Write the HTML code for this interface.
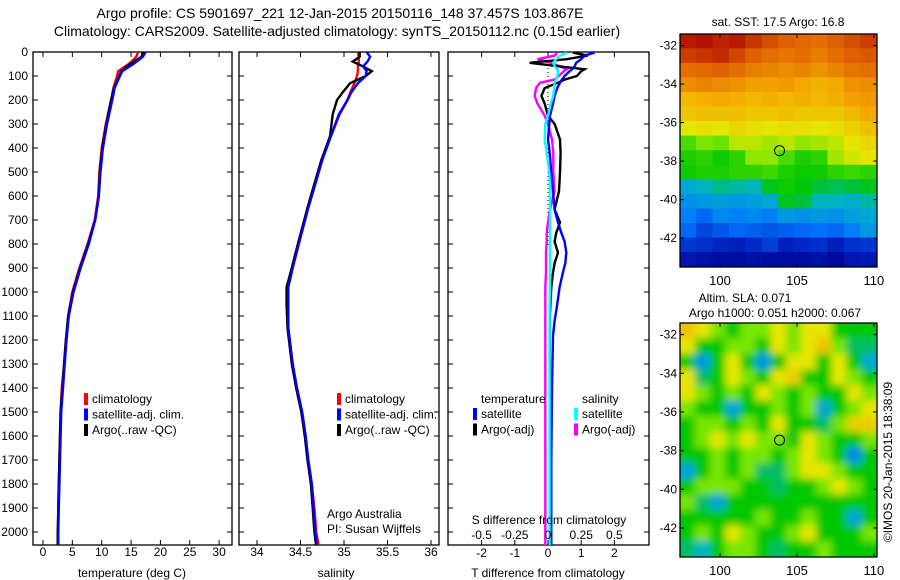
<!DOCTYPE html>
<html><head><meta charset="utf-8"><style>
html,body{margin:0;padding:0;background:#fff;}
svg{display:block;font-family:"Liberation Sans",sans-serif;}
</style></head><body>
<svg id="fig" width="900" height="580" viewBox="0 0 900 580" xmlns="http://www.w3.org/2000/svg">
<defs>
<clipPath id="c1"><rect x="33" y="34" width="199" height="511"/></clipPath>
<clipPath id="c2"><rect x="239" y="34" width="200" height="511"/></clipPath>
<clipPath id="c3"><rect x="448" y="34" width="201" height="511"/></clipPath>
<clipPath id="cm1"><rect x="680" y="34" width="197" height="233"/></clipPath>
<clipPath id="cm2"><rect x="680" y="323" width="197" height="234"/></clipPath>
<filter id="blur" x="-5%" y="-5%" width="110%" height="110%"><feGaussianBlur stdDeviation="4"/></filter>
</defs>
<text x="340" y="18" font-size="14" text-anchor="middle">Argo profile: CS 5901697_221 12-Jan-2015 20150116_148 37.457S 103.867E</text>
<text x="337" y="36" font-size="14" text-anchor="middle">Climatology: CARS2009. Satellite-adjusted climatology: synTS_20150112.nc (0.15d earlier)</text>
<g id="g"></g>
</svg>
<script>
// ---------- data ----------
const depthT   = [0,20,50,80,100,150,200,300,400,500,600,700,800,900,1000,1100,1200,1300,1400,1500,1600,1700,1800,1900,2000,2060];
const tempClim = [16.2,15.9,14.6,12.8,12.6,12.0,11.6,10.7,10.0,9.6,9.4,8.8,7.6,6.2,5.0,4.3,3.9,3.6,3.2,3.0,2.9,2.8,2.7,2.6,2.6,2.6];
const tempSat  = [17.5,17.0,15.4,13.5,13.1,12.2,11.8,10.9,10.2,9.8,9.5,8.9,7.8,6.4,5.2,4.4,4.0,3.7,3.4,3.1,3.0,2.9,2.8,2.7,2.6,2.6];
const tempArgo = [17.0,16.8,14.8,13.3,13.0,12.1,11.6,10.8,10.1,9.7,9.5,8.9,7.7,6.3,5.1,4.3,3.9,3.6,3.3,3.0,2.9,2.8,2.7,2.6,2.5,2.5];
const depthS   = [0,20,40,60,80,100,130,170,200,260,350,450,550,650,800,900,980,1050,1150,1300,1400,1500,1600,1700,1800,1900,2000,2060];
const salClim  = [35.16,35.17,35.17,35.16,35.16,35.15,35.12,35.07,35.04,34.95,34.85,34.74,34.66,34.58,34.47,34.40,34.35,34.35,34.36,34.41,34.45,34.51,34.55,34.59,34.63,34.66,34.68,34.71];
const salSat   = [35.26,35.30,35.27,35.22,35.26,35.25,35.16,35.08,35.04,34.94,34.85,34.75,34.67,34.59,34.48,34.41,34.36,34.36,34.36,34.41,34.46,34.52,34.56,34.59,34.63,34.65,34.67,34.69];
const salArgo  = [35.18,35.18,35.10,35.22,35.32,35.25,35.07,34.98,34.92,34.87,34.84,34.74,34.66,34.58,34.47,34.40,34.34,34.34,34.35,34.40,34.45,34.51,34.55,34.58,34.62,34.64,34.66,34.68];
const depthD   = [3,15,30,45,60,72,80,100,115,128,150,183,215,266,300,364,420,503,580,656,710,753,790,836,880,919,980,1058,1120,1182,1400,1700,2060];
const dTsat    = [1.4,1.1,1.0,0.85,0.8,0.72,0.65,0.5,0.42,0.36,0.28,0.2,0.15,0.06,0.04,0.0,0.05,0.1,0.15,0.2,0.3,0.4,0.5,0.55,0.52,0.45,0.35,0.27,0.2,0.15,0.12,0.1,0.1];
const dTargo   = [0.75,1.2,0.56,-0.55,0.36,1.1,1.0,0.87,0.5,0.3,-0.1,-0.2,-0.1,0.0,0.2,0.36,0.38,0.36,0.33,0.2,0.36,0.25,0.2,0.3,0.2,0.15,0.1,0.07,0.05,0.05,0.05,0.05,0.05];
const dSsat    = [0.14,0.09,0.06,0.04,0.05,0.07,0.075,0.07,0.06,0.05,0.045,0.04,0.02,0.0,-0.02,-0.025,-0.01,0.01,0.015,0.015,0.015,0.015,0.015,0.015,0.015,0.015,0.015,0.012,0.012,0.012,0.012,0.012,0.012];
const dSargo   = [0.07,0.05,-0.08,0.02,0.09,0.14,0.12,0.08,0.05,-0.06,-0.09,-0.1,-0.08,-0.025,0.0,0.03,0.04,0.04,0.05,0.015,0.0,-0.01,-0.01,-0.015,-0.015,-0.015,-0.02,-0.02,-0.02,-0.02,-0.02,-0.02,-0.02];
const depthTicks = [0,100,200,300,400,500,600,700,800,900,1000,1100,1200,1300,1400,1500,1600,1700,1800,1900,2000];
const tempTicks = [0,5,10,15,20,25,30];
const salTicks = [34,34.5,35,35.5,36];
const salTickLabels = ["34","34.5","35","35.5","36"];
const dTTicks = [-2,-1,0,1,2];
const dSTicks = [-0.5,-0.25,0,0.25,0.5];
const dSTickLabels = ["-0.5","-0.25","0","0.25","0.5"];
const lonTicks = [100,105,110];
const latTicks = [-32,-34,-36,-38,-40,-42];
const argoLon = 103.867, argoLat = -37.457;
const sstGrid = [
[19.6,19.7,19.5,19.6,19.3,19.0,18.8,18.7,18.6,18.8,19.0,19.2],
[19.2,19.3,19.4,19.1,18.8,18.6,18.5,18.6,18.4,18.6,18.8,18.9],
[18.6,18.7,18.8,18.6,18.4,18.3,18.2,18.3,18.1,18.3,18.5,18.6],
[18.2,18.3,18.2,18.1,17.9,17.9,18.0,17.8,17.7,17.8,18.1,18.2],
[17.6,17.7,17.8,17.7,17.6,17.7,17.6,17.7,17.6,17.7,17.9,18.0],
[17.4,17.5,17.5,17.5,17.4,17.4,17.5,17.4,17.4,17.4,17.6,17.8],
[17.0,17.1,17.0,17.2,17.1,17.0,17.1,17.1,17.0,17.1,17.3,17.5],
[16.2,16.5,16.4,16.8,16.8,16.7,16.8,16.6,16.7,16.8,17.0,17.2],
[15.9,16.0,15.8,16.0,16.6,16.6,16.2,15.9,16.0,16.7,16.9,17.0],
[15.8,15.9,15.9,16.0,16.0,16.1,15.9,15.8,15.8,16.0,16.1,16.0],
[14.8,15.0,15.2,15.1,15.0,15.6,15.8,15.7,15.5,15.4,15.5,15.6],
[14.5,14.6,14.7,14.6,14.7,14.8,15.6,15.5,15.0,15.0,14.9,15.1],
[14.3,14.0,14.4,14.3,14.4,14.3,14.6,14.5,14.6,14.5,14.7,14.8],
[14.0,13.6,13.8,14.0,13.9,13.8,13.9,14.0,14.1,14.0,14.3,14.6],
[13.4,13.3,13.1,13.0,13.2,13.5,13.0,13.2,13.3,13.0,13.3,13.4],
[12.8,12.7,12.6,12.6,12.7,12.6,12.6,12.6,12.7,12.5,12.8,12.9]];
const slaGrid = [
[0.68,0.62,0.55,0.45,0.55,0.55,0.62,0.55,0.62,0.62,0.45,0.45,0.45],
[0.62,0.45,0.45,0.55,0.55,0.45,0.62,0.55,0.62,0.68,0.55,0.40,0.40],
[0.45,0.30,0.45,0.62,0.45,0.30,0.45,0.62,0.62,0.45,0.62,0.45,0.33],
[0.62,0.40,0.45,0.62,0.55,0.45,0.62,0.66,0.45,0.45,0.62,0.55,0.45],
[0.62,0.55,0.45,0.55,0.45,0.62,0.55,0.45,0.55,0.45,0.45,0.62,0.55],
[0.55,0.45,0.45,0.32,0.45,0.45,0.55,0.45,0.55,0.32,0.45,0.55,0.62],
[0.45,0.55,0.55,0.45,0.55,0.45,0.62,0.45,0.45,0.40,0.55,0.66,0.66],
[0.45,0.55,0.62,0.55,0.62,0.55,0.55,0.45,0.62,0.55,0.45,0.45,0.55],
[0.45,0.45,0.55,0.45,0.55,0.55,0.45,0.55,0.62,0.55,0.45,0.28,0.45],
[0.32,0.45,0.55,0.45,0.55,0.40,0.40,0.55,0.62,0.62,0.55,0.45,0.45],
[0.45,0.55,0.55,0.55,0.45,0.45,0.40,0.45,0.45,0.55,0.62,0.55,0.45],
[0.55,0.40,0.32,0.45,0.45,0.45,0.45,0.45,0.45,0.45,0.45,0.45,0.45],
[0.45,0.45,0.45,0.45,0.45,0.55,0.45,0.45,0.55,0.45,0.45,0.32,0.45],
[0.45,0.55,0.45,0.62,0.55,0.45,0.45,0.55,0.62,0.45,0.45,0.45,0.55],
[0.40,0.35,0.45,0.55,0.55,0.45,0.40,0.45,0.45,0.55,0.45,0.45,0.45]];

// ---------- helpers ----------
const NS="http://www.w3.org/2000/svg";
const G=document.getElementById('g');
function mk(tag,attrs,parent){const e=document.createElementNS(NS,tag);for(const k in attrs)e.setAttribute(k,attrs[k]);(parent||G).appendChild(e);return e;}
function txt(x,y,s,size,anchor,parent){const e=mk('text',{x:x,y:y,'font-size':size||12,'text-anchor':anchor||'middle'},parent);e.textContent=s;return e;}
const yD=d=>52+d*0.24;
const xT=t=>43+t*5.87;
const xS=s=>257+(s-34)*87;
const xDT=t=>548+t*33.2;
const xDS=s=>548+s*4*33.2;

function frame(x0,x1,name){
  const r=mk('rect',{x:x0,y:52,width:x1-x0,height:493,fill:'none',stroke:'#000','stroke-width':1.3});
  
  
  depthTicks.forEach(d=>{mk('line',{x1:x0,x2:x0+5,y1:yD(d),y2:yD(d),stroke:'#000'});mk('line',{x1:x1,x2:x1-5,y1:yD(d),y2:yD(d),stroke:'#000'});});
}
function xticks(vals,labels,fx,y0,ly){
  vals.forEach((v,i)=>{const x=fx(v);mk('line',{x1:x,x2:x,y1:52,y2:57,stroke:'#000'});mk('line',{x1:x,x2:x,y1:545,y2:540,stroke:'#000'});
    const t=txt(x,ly,labels[i],12);});
}
function line(xs,ds,fx,color,clip,name,w){
  const pts=xs.map((v,i)=>fx(v).toFixed(1)+','+yD(ds[i]).toFixed(1)).join(' ');
  const p=mk('polyline',{points:pts,fill:'none',stroke:color,'stroke-width':w||2.4,'clip-path':'url(#'+clip+')','stroke-linejoin':'miter'});
  
  
}
function legend(x,y,items){
  items.forEach((it,i)=>{mk('rect',{x:x,y:y+i*15.5-10,width:4,height:12,fill:it[0]});
    const t=txt(x+8,y+i*15.5,it[1],12,'start');});
}

// panel 1
frame(33,232,'temperature-panel');
depthTicks.forEach(d=>{const t=txt(28,yD(d)+4,String(d),12,'end');});
xticks(tempTicks,tempTicks.map(String),xT,0,556);
line(tempClim,depthT,xT,'#f00','c1','temp-climatology-line');
line(tempArgo,depthT,xT,'#000','c1','temp-argo-line');
line(tempSat,depthT,xT,'#00f','c1','temp-satellite-line');
txt(132,577,'temperature (deg C)',12);
legend(84,403,[['#f00','climatology'],['#00f','satellite-adj. clim.'],['#000','Argo(..raw -QC)']]);

// panel 2
frame(239,439,'salinity-panel');
xticks(salTicks,salTickLabels,xS,0,556);
line(salClim,depthS,xS,'#f00','c2','sal-climatology-line');
line(salArgo,depthS,xS,'#000','c2','sal-argo-line');
line(salSat,depthS,xS,'#00f','c2','sal-satellite-line');
txt(336,577,'salinity',12);
legend(337,403,[['#f00','climatology'],['#00f','satellite-adj. clim.'],['#000','Argo(..raw -QC)']]);
txt(327,518,'Argo Australia',12,'start');
txt(327,533,'PI: Susan Wijffels',12,'start');

// panel 3
frame(448,649,'difference-panel');
xticks(dTTicks,dTTicks.map(String),xDT,0,557);
mk('line',{x1:548,x2:548,y1:52,y2:245,stroke:'#000','stroke-dasharray':'1,3'});
line(dSargo,depthD,xDS,'#f0f','c3','sal-argo-diff-line',2.4);
line(dTargo,depthD,xDT,'#000','c3','temp-argo-diff-line',2.4);
line(dTsat,depthD,xDT,'#00f','c3','temp-satellite-diff-line',2.4);
line(dSsat,depthD,xDS,'#0ff','c3','sal-satellite-diff-line',2.4);
dSTicks.forEach((v,i)=>{const t=txt(xDS(v),539,dSTickLabels[i],12);});
txt(549,524,'S difference from climatology',12);
txt(548,577,'T difference from climatology',12);
txt(481,403,'temperature',12,'start');
txt(582,403,'salinity',12,'start');
legend(473,418,[['#00f','satellite'],['#000','Argo(-adj)']]);
legend(574,418,[['#0ff','satellite'],['#f0f','Argo(-adj)']]);

// colormap
const stops=[[0,[0,0,140]],[0.12,[0,40,200]],[0.25,[0,120,255]],[0.35,[0,180,200]],[0.45,[0,200,0]],[0.55,[120,230,0]],[0.62,[230,230,0]],[0.72,[245,170,0]],[0.85,[225,100,0]],[1,[170,0,0]]];
function cmap(t){t=Math.max(0,Math.min(1,t));for(let i=1;i<stops.length;i++){if(t<=stops[i][0]){const a=stops[i-1],b=stops[i],f=(t-a[0])/(b[0]-a[0]);return 'rgb('+a[1].map((c,j)=>Math.round(c+(b[1][j]-c)*f)).join(',')+')';}}return 'rgb(170,0,0)';}

function map(y0,y1,lat0,lat1,grid,tfun,clip,blur,name){
  const x0=680,x1=877,lon0=97.4,lon1=110.2;
  const fx=l=>x0+(l-lon0)/(lon1-lon0)*(x1-x0);
  const fy=a=>y0+(lat0-a)/(lat0-lat1)*(y1-y0);
  const g=mk('g',{'clip-path':'url(#'+clip+')'});
  const inner=mk('g',blur?{filter:'url(#blur)'}:{},g);
  const rows=grid.length,cols=grid[0].length;
  const cw=(x1-x0)/cols,ch=(y1-y0)/rows;
  const pad=blur?12:0;
  grid.forEach((row,r)=>row.forEach((v,c)=>{
    const cell=mk('rect',{x:x0+c*cw-(c==0?pad:0)-0.3,y:y0+r*ch-(r==0?pad:0)-0.3,width:cw+0.6+((c==0||c==cols-1)?pad:0),height:ch+0.6+((r==0||r==rows-1)?pad:0),fill:cmap(tfun(v))},inner);
    
    
  }));
  const fr=mk('rect',{x:x0,y:y0,width:x1-x0,height:y1-y0,fill:'none',stroke:'#000','stroke-width':1.3});
  
  
  lonTicks.forEach(l=>{const x=fx(l);mk('line',{x1:x,x2:x,y1:y0,y2:y0+4,stroke:'#000'});mk('line',{x1:x,x2:x,y1:y1,y2:y1-4,stroke:'#000'});txt(x,y1+18,String(l),13);});
  latTicks.forEach(a=>{const y=fy(a);mk('line',{x1:x0,x2:x0+4,y1:y,y2:y,stroke:'#000'});mk('line',{x1:x1,x2:x1-4,y1:y,y2:y,stroke:'#000'});txt(x0-3,y+4,String(a),12,'end');});
  const c=mk('circle',{cx:fx(argoLon),cy:fy(argoLat),r:5,fill:'none',stroke:'#000','stroke-width':1});
  
  
}
map(34,267,-31.4,-43.5,sstGrid,v=>(v-12.3)/7.6,'cm1',false,'sst-map');
map(323,557,-31.4,-43.5,slaGrid,v=>v,'cm2',true,'sla-map');
txt(778,26,'sat. SST: 17.5 Argo: 16.8',12);
txt(745,302,'Altim. SLA: 0.071',12);
txt(775,317,'Argo h1000: 0.051 h2000: 0.067',12);
const cr=txt(0,0,'©IMOS 20-Jan-2015 18:38:09',12);
cr.setAttribute('transform','translate(892,462) rotate(-90)');


</script>
</body></html>
